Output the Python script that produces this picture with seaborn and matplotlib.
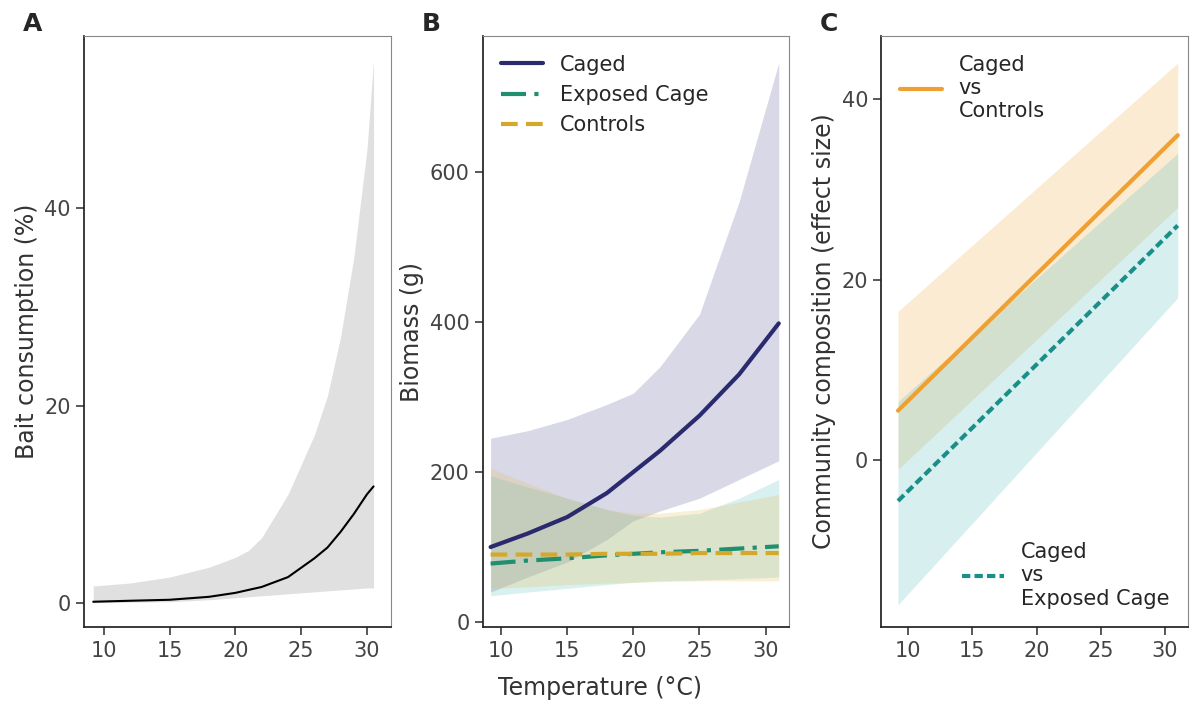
import numpy as np
import pandas as pd
import matplotlib.pyplot as plt
import seaborn as sns

sns.set_theme(style="ticks")
plt.rcParams['font.family'] = ['DejaVu Sans']

# Panel A: bait consumption
a_temp = [9.2, 12, 15, 18, 20, 21, 22, 24, 26, 27, 28, 29, 30, 30.5]
a_fit = [0.1, 0.2, 0.3, 0.6, 1.0, 1.3, 1.6, 2.6, 4.5, 5.6, 7.2, 9.0, 11.0, 11.8]
a_hi = [1.7, 2.0, 2.6, 3.6, 4.6, 5.3, 6.6, 11, 17, 21, 27, 35, 46, 55]
a_lo = [0.0, 0.05, 0.1, 0.3, 0.5, 0.6, 0.7, 0.9, 1.1, 1.2, 1.3, 1.4, 1.5, 1.5]

# Panel B: biomass
b_temp = [9.2, 12, 15, 18, 20, 22, 25, 28, 31]
caged = [100, 118, 140, 172, 200, 228, 275, 330, 398]
caged_hi = [245, 255, 270, 290, 305, 340, 410, 560, 745]
caged_lo = [40, 60, 80, 110, 135, 148, 165, 190, 215]
exposed = [78, 82, 85, 89, 91, 93, 95, 98, 101]
exposed_hi = [195, 180, 165, 150, 142, 140, 145, 165, 190]
exposed_lo = [35, 40, 45, 50, 53, 55, 56, 58, 60]
controls = [90, 90, 90, 91, 91, 91, 92, 92, 92]
controls_hi = [205, 185, 165, 150, 145, 145, 150, 160, 170]
controls_lo = [45, 47, 50, 52, 53, 54, 55, 55, 55]

# Panel C: effect sizes
c_temp = [9.2, 31]
cc = [5.5, 36]
cc_hi = [16.5, 44]
cc_lo = [-1, 28]
ce = [-4.5, 26]
ce_hi = [6.5, 34]
ce_lo = [-16, 18]

fig, axes = plt.subplots(1, 3, figsize=(12, 7.17), dpi=100)
plt.subplots_adjust(left=0.07, right=0.99, top=0.95, bottom=0.125, wspace=0.3)

ax = axes[0]
ax.fill_between(a_temp, a_lo, a_hi, color='#e0e0e0', lw=0)
sns.lineplot(x=a_temp, y=a_fit, ax=ax, color='black', lw=1.5)
ax.set_xlim(8.5, 31.8)
ax.set_ylim(-2.5, 57.5)
ax.set_yticks([0, 20, 40])
ax.set_ylabel('Bait consumption (%)', fontsize=17, color='#333333')

ax = axes[1]
ax.fill_between(b_temp, caged_lo, caged_hi, color='#2c2a7a', alpha=0.18, lw=0)
ax.fill_between(b_temp, exposed_lo, exposed_hi, color='#40b8b0', alpha=0.2, lw=0)
ax.fill_between(b_temp, controls_lo, controls_hi, color='#e8c060', alpha=0.25, lw=0)
ax.plot(b_temp, caged, color='#2c2a6e', lw=3, label='Caged')
ax.plot(b_temp, exposed, color='#1f8f6f', lw=3, ls=(0, (6, 2, 1, 2)), label='Exposed Cage')
ax.plot(b_temp, controls, color='#d4a82a', lw=3, ls=(0, (4, 2)), label='Controls')
ax.set_xlim(8.6, 31.8)
ax.set_ylim(-7, 781)
ax.set_yticks([0, 200, 400, 600])
ax.set_ylabel('Biomass (g)', fontsize=17, color='#333333')
ax.legend(loc='upper left', frameon=False, fontsize=15, handlelength=2)

ax = axes[2]
ax.fill_between(c_temp, cc_lo, cc_hi, color='#f5c070', alpha=0.3, lw=0)
ax.fill_between(c_temp, ce_lo, ce_hi, color='#60c0c0', alpha=0.25, lw=0)
l1, = ax.plot(c_temp, cc, color='#f0a030', lw=3)
l2, = ax.plot(c_temp, ce, color='#1a8f8a', lw=3, ls=(0, (2, 1)))
ax.set_xlim(7.9, 31.8)
ax.set_ylim(-18.5, 47)
ax.set_yticks([0, 20, 40])
ax.set_ylabel('Community composition (effect size)', fontsize=17, color='#333333')
leg1 = ax.legend([l1], ['Caged\nvs\nControls'], loc='upper left', frameon=False, fontsize=15)
ax.add_artist(leg1)
ax.legend([l2], ['Caged\nvs\nExposed Cage'], loc='lower right', frameon=False, fontsize=15)

for ax, lab in zip(axes, 'ABC'):
    ax.set_xticks([10, 15, 20, 25, 30])
    ax.tick_params(labelsize=15, colors='#444444')
    for side in ['top', 'right']:
        ax.spines[side].set_color('#888888')
        ax.spines[side].set_linewidth(0.8)
    for side in ['left', 'bottom']:
        ax.spines[side].set_color('#222222')
    ax.text(-0.2, 1.0, lab, transform=ax.transAxes, fontsize=18, fontweight='bold', va='bottom')

fig.text(0.5, 0.03, 'Temperature (°C)', ha='center', fontsize=17, color='#333333')
fig.savefig('out.png')
